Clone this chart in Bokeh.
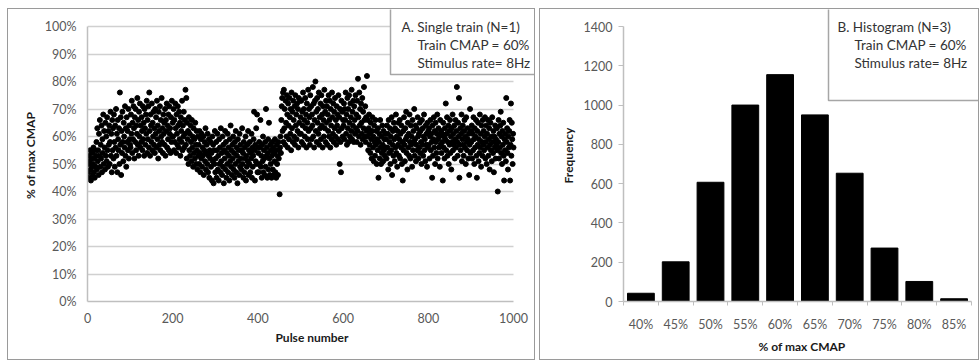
from bokeh.plotting import figure
from bokeh.layouts import row, column, Spacer
from bokeh.models import (Range1d, FixedTicker, PrintfTickFormatter, Label)
from bokeh.embed import file_html
from bokeh.resources import INLINE

# ---------------- data: panel A (single train, % of max CMAP per pulse) -------------
cmap_000 = [50, 47, 53, 45, 51, 55, 48, 44, 52, 49, 54, 46, 50, 56, 47, 52, 45, 55, 49, 53,
            58, 48, 63, 51, 55, 46, 61, 53, 66, 49, 57, 52, 64, 47, 59, 54, 68, 50, 62, 56,
            48, 65, 53, 60, 51, 67, 55, 49, 62, 57, 64, 50, 58, 69, 53, 61, 47, 66, 55, 63,
            52, 68, 58, 49, 64, 56, 70, 53, 61, 47, 66, 59, 55, 63, 50, 76, 57, 67, 46, 62,
            54, 69, 58, 51, 65, 60, 56, 71, 53, 63, 49, 67, 58, 62, 55, 70, 52, 64, 59, 57]
cmap_100 = [56, 68, 61, 73, 54, 65, 59, 71, 63, 52, 67, 58, 70, 55, 64, 61, 74, 57, 66, 53,
            69, 60, 72, 56, 64, 58, 67, 62, 55, 71, 59, 65, 53, 70, 63, 57, 68, 61, 73, 54,
            66, 59, 71, 56, 76, 62, 53, 68, 64, 58, 72, 55, 65, 60, 69, 57, 63, 54, 70, 61,
            67, 56, 73, 59, 64, 52, 69, 62, 57, 71, 55, 66, 60, 74, 58, 63, 54, 68, 61, 65,
            57, 70, 53, 66, 62, 72, 56, 64, 59, 68, 55, 71, 61, 63, 54, 67, 58, 73, 60, 65]
cmap_200 = [60, 70, 55, 66, 58, 72, 63, 54, 68, 61, 57, 71, 64, 56, 69, 59, 65, 53, 67, 62,
            58, 73, 55, 64, 60, 69, 56, 66, 61, 77, 57, 74, 52, 65, 59, 62, 50, 67, 55, 61,
            53, 64, 58, 51, 66, 56, 60, 49, 63, 54, 59, 52, 65, 57, 50, 62, 55, 48, 60, 53,
            57, 50, 62, 54, 47, 59, 52, 61, 49, 56, 53, 60, 46, 55, 58, 51, 63, 48, 54, 57,
            50, 61, 47, 53, 59, 45, 55, 52, 58, 49, 54, 44, 60, 51, 57, 43, 55, 50, 62, 47]
cmap_300 = [52, 58, 45, 55, 61, 48, 53, 44, 59, 50, 56, 47, 63, 51, 54, 46, 60, 49, 57, 43,
            55, 52, 62, 48, 58, 45, 54, 50, 61, 47, 56, 53, 44, 59, 51, 64, 49, 55, 46, 57,
            52, 60, 48, 54, 45, 58, 50, 62, 47, 56, 53, 43, 59, 51, 55, 46, 61, 49, 57, 52,
            48, 55, 63, 50, 54, 45, 58, 47, 56, 52, 60, 44, 53, 49, 57, 51, 62, 46, 55, 50,
            58, 47, 54, 52, 61, 45, 56, 49, 53, 59, 69, 55, 44, 57, 51, 63, 50, 68, 47, 56]
cmap_400 = [54, 47, 58, 50, 56, 66, 49, 53, 45, 57, 51, 60, 47, 55, 52, 46, 58, 49, 70, 53,
            56, 45, 54, 59, 48, 65, 52, 46, 57, 50, 55, 45, 53, 58, 48, 56, 46, 54, 51, 59,
            47, 55, 45, 57, 50, 53, 46, 58, 52, 55, 39, 56, 60, 54, 66, 71, 74, 62, 76, 58,
            77, 63, 70, 57, 73, 65, 60, 75, 68, 56, 72, 64, 59, 74, 67, 61, 70, 55, 76, 63,
            69, 58, 73, 66, 60, 71, 57, 75, 64, 68, 59, 72, 62, 70, 56, 74, 65, 61, 73, 67]
cmap_500 = [61, 73, 58, 69, 64, 76, 57, 70, 66, 60, 74, 63, 68, 56, 72, 65, 59, 77, 62, 70,
            67, 57, 75, 63, 71, 59, 68, 64, 78, 60, 72, 56, 66, 73, 80, 62, 69, 58, 74, 65,
            70, 61, 76, 57, 67, 63, 72, 59, 75, 64, 68, 56, 71, 66, 60, 77, 63, 69, 58, 73,
            65, 71, 57, 68, 62, 75, 60, 66, 73, 56, 70, 64, 59, 76, 67, 61, 72, 58, 69, 63,
            74, 60, 66, 57, 71, 64, 68, 59, 75, 62, 67, 50, 70, 58, 47, 73, 63, 69, 60, 66]
cmap_600 = [64, 72, 59, 70, 66, 76, 61, 68, 57, 74, 63, 70, 58, 75, 65, 60, 72, 67, 62, 77,
            59, 69, 64, 73, 58, 71, 66, 61, 75, 63, 68, 58, 73, 62, 81, 67, 60, 76, 64, 70,
            57, 72, 65, 61, 74, 59, 69, 63, 78, 66, 60, 71, 58, 67, 62, 82, 60, 66, 55, 63,
            68, 57, 61, 54, 65, 59, 52, 62, 67, 56, 60, 51, 64, 58, 53, 66, 57, 62, 50, 59,
            55, 63, 45, 58, 61, 52, 66, 56, 50, 60, 54, 64, 57, 51, 62, 55, 59, 53, 61, 56]
cmap_700 = [59, 52, 64, 56, 61, 48, 66, 54, 58, 63, 50, 60, 55, 67, 46, 57, 62, 53, 65, 59,
            51, 63, 56, 68, 54, 60, 49, 62, 57, 65, 53, 59, 66, 52, 61, 56, 64, 50, 58, 44,
            62, 55, 67, 57, 51, 63, 59, 69, 54, 60, 48, 65, 56, 61, 53, 68, 58, 52, 64, 57,
            60, 49, 66, 55, 62, 58, 70, 53, 59, 64, 51, 57, 63, 55, 67, 60, 52, 61, 56, 65,
            54, 62, 58, 50, 66, 57, 63, 53, 60, 68, 55, 59, 51, 64, 57, 61, 49, 65, 56, 62]
cmap_800 = [57, 63, 52, 60, 66, 55, 61, 58, 45, 64, 53, 59, 67, 56, 62, 50, 65, 58, 54, 61,
            68, 52, 59, 63, 56, 60, 49, 66, 57, 62, 54, 61, 58, 44, 65, 56, 60, 52, 63, 59,
            72, 55, 61, 67, 53, 58, 64, 50, 62, 57, 66, 54, 60, 48, 63, 58, 68, 55, 61, 57,
            64, 52, 59, 66, 56, 62, 78, 58, 53, 65, 60, 74, 45, 57, 63, 55, 61, 68, 51, 59,
            64, 57, 53, 62, 66, 56, 60, 50, 67, 58, 55, 63, 59, 52, 61, 46, 57, 70, 54, 62]
cmap_900 = [58, 64, 52, 61, 55, 67, 59, 50, 63, 56, 60, 66, 53, 45, 62, 57, 65, 51, 59, 54,
            68, 56, 61, 49, 64, 58, 53, 66, 57, 62, 55, 60, 67, 52, 58, 64, 50, 61, 56, 66,
            53, 59, 63, 48, 57, 65, 55, 60, 51, 67, 58, 54, 62, 47, 60, 56, 64, 52, 59, 57,
            63, 55, 40, 58, 66, 52, 61, 56, 64, 69, 54, 60, 50, 62, 57, 65, 53, 44, 59, 55,
            61, 51, 74, 58, 63, 54, 48, 60, 56, 62, 66, 44, 57, 72, 53, 65, 59, 50, 61, 56]

cmap_pct = (cmap_000 + cmap_100 + cmap_200 + cmap_300 + cmap_400 +
            cmap_500 + cmap_600 + cmap_700 + cmap_800 + cmap_900)
pulse = list(range(1, len(cmap_pct) + 1))

x_max_a = 1000
y_max_a = 100
y_ticks_a = [0, 10, 20, 30, 40, 50, 60, 70, 80, 90, 100]
x_ticks_a = [0, 200, 400, 600, 800, 1000]

# ---------------- data: panel B (histogram, N=3) ----------------
hist_bins = ["40%", "45%", "50%", "55%", "60%", "65%", "70%", "75%", "80%", "85%"]
hist_freq = [42, 202, 607, 1000, 1155, 950, 653, 272, 102, 14]
y_max_b = 1400
y_ticks_b = [0, 200, 400, 600, 800, 1000, 1200, 1400]

legend_a = ["A. Single train (N=1)", "Train CMAP = 60%", "Stimulus rate= 8Hz"]
legend_b = ["B.  Histogram (N=3)", "Train CMAP = 60%", "Stimulus rate= 8Hz"]

FONT = "Lato"
TICK_COL = "#595959"
AXIS_COL = "#bfbfbf"
NB = "\u00a0"

# frame geometry (pixels): the frame is extended up to the panel edge so that the
# text boxes (which are clipped to the frame) can reach the panel border
A_W, A_H = 528, 352
A_L, A_T, A_B = 79, 0, 60          # borders
A_PLOT_W, A_PLOT_H = 426, 275      # size of the 0..1000 x 0..100 area
B_W, B_H = 440, 352
B_L, B_T, B_B = 83, 0, 60
B_PLOT_W, B_PLOT_H = 348, 275
LINE_Y = [275, 257, 239]           # legend text lines (screen units, from frame bottom)

def style_axis(ax):
    ax.major_label_text_font = FONT
    ax.major_label_text_font_size = "12.5px"
    ax.major_label_text_color = TICK_COL
    ax.axis_label_text_font = FONT
    ax.axis_label_text_font_size = "12px"
    ax.axis_label_text_font_style = "bold"
    ax.axis_label_text_color = "#1a1a1a"
    ax.axis_line_color = AXIS_COL
    ax.axis_line_width = 1.5
    ax.minor_tick_line_color = None

def add_legend(p, box_x, box_y, text_x, indent, lines):
    box = Label(x=box_x, y=box_y, x_units="screen", y_units="screen", anchor="bottom_left",
                text=NB, text_font=FONT, text_font_size="10px",
                background_fill_color="white", border_line_color="#a6a6a6",
                border_line_width=1.5,
                padding=dict(left=0, right=300, top=120, bottom=0))
    p.add_layout(box)
    for i, (line, y) in enumerate(zip(lines, LINE_Y)):
        p.add_layout(Label(x=text_x + (indent if i else 0), y=y,
                           x_units="screen", y_units="screen",
                           text=line, text_font=FONT, text_font_size="13.5px",
                           text_color="#333333", text_align="left",
                           text_baseline="middle"))

# ---------------- panel A ----------------
a_frame_w = A_W - A_L
a_frame_h = A_H - A_T - A_B
pa = figure(width=A_W, height=A_H, output_backend="svg", toolbar_location=None,
            x_range=Range1d(0, x_max_a * a_frame_w / A_PLOT_W),
            y_range=Range1d(0, y_max_a * a_frame_h / A_PLOT_H),
            min_border_left=A_L, min_border_right=0, min_border_top=A_T, min_border_bottom=A_B,
            x_axis_label="Pulse number", y_axis_label="% of max CMAP")
pa.outline_line_color = None
pa.xgrid.grid_line_color = None
pa.ygrid.grid_line_color = "#d0d0d0"
pa.ygrid.grid_line_width = 1.5
pa.ygrid.bounds = (0, y_max_a)
pa.ygrid.cross_bounds = (0, x_max_a)
pa.xaxis.ticker = FixedTicker(ticks=x_ticks_a)
pa.yaxis.ticker = FixedTicker(ticks=y_ticks_a)
pa.xaxis.bounds = (0, x_max_a)
pa.yaxis.bounds = (0, y_max_a)
pa.yaxis.formatter = PrintfTickFormatter(format="%d%%")
for ax in (pa.xaxis[0], pa.yaxis[0]):
    style_axis(ax)
    ax.major_tick_line_color = None
    ax.major_tick_out = 0
    ax.major_tick_in = 0
pa.yaxis.major_label_standoff = 11
pa.xaxis.major_label_standoff = 11
pa.yaxis.axis_label_standoff = 4
pa.xaxis.axis_label_standoff = 4
pa.scatter(pulse, cmap_pct, size=5, color="black")
add_legend(pa, 303, a_frame_h - 65, 314, 16, legend_a)
pa.styles = {"border": "1px solid #9a9a9a", "box-sizing": "border-box"}

# ---------------- panel B ----------------
b_frame_w = B_W - B_L
b_frame_h = B_H - B_T - B_B
n_bins = len(hist_bins)
xb = [i + 0.5 for i in range(n_bins)]
pb = figure(width=B_W, height=B_H, output_backend="svg", toolbar_location=None,
            x_range=Range1d(0, n_bins * b_frame_w / B_PLOT_W),
            y_range=Range1d(0, y_max_b * b_frame_h / B_PLOT_H),
            min_border_left=B_L, min_border_right=0, min_border_top=B_T, min_border_bottom=B_B,
            x_axis_label="% of max CMAP", y_axis_label="Frequency")
pb.outline_line_color = None
pb.xgrid.grid_line_color = None
pb.ygrid.grid_line_color = None
pb.vbar(x=xb, top=hist_freq, width=0.77, color="black")
pb.yaxis.ticker = FixedTicker(ticks=y_ticks_b)
pb.xaxis.ticker = FixedTicker(ticks=xb, minor_ticks=list(range(n_bins + 1)))
pb.xaxis.major_label_overrides = {x: lab for x, lab in zip(xb, hist_bins)}
pb.xaxis.bounds = (0, n_bins)
pb.yaxis.bounds = (0, y_max_b)
for ax in (pb.xaxis[0], pb.yaxis[0]):
    style_axis(ax)
pb.yaxis.major_tick_line_color = AXIS_COL
pb.yaxis.major_tick_out = 5
pb.yaxis.major_tick_in = 0
pb.yaxis.major_label_standoff = 6
pb.xaxis.major_tick_line_color = None
pb.xaxis.major_tick_out = 0
pb.xaxis.major_tick_in = 0
pb.xaxis.minor_tick_line_color = AXIS_COL
pb.xaxis.minor_tick_out = 4
pb.xaxis.minor_tick_in = 0
pb.xaxis.major_label_standoff = 11
pb.yaxis.axis_label_standoff = 5
pb.xaxis.axis_label_standoff = 4
add_legend(pb, 205, b_frame_h - 91, 214, 17, legend_b)
pb.styles = {"border": "1px solid #9a9a9a", "box-sizing": "border-box"}

layout = column(Spacer(height=8),
                row(Spacer(width=7), pa, Spacer(width=4), pb))

open("out.html", "w").write(file_html(layout, INLINE))
